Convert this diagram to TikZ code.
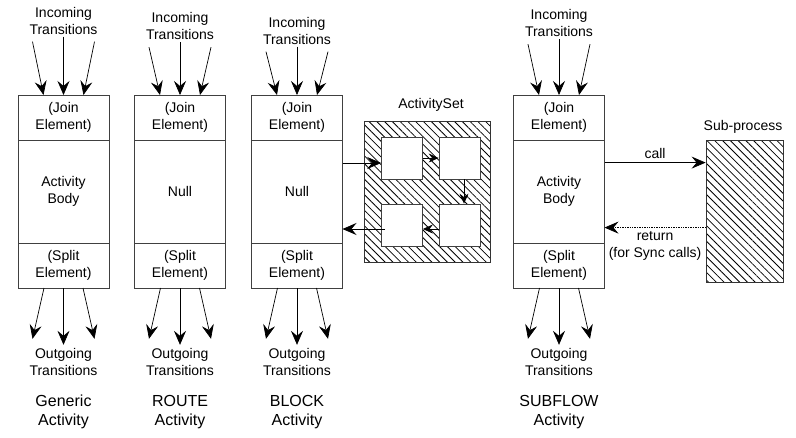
\documentclass[tikz,border=0pt]{standalone}
\usepackage{fontspec}
\setmainfont{Liberation Sans}
\usetikzlibrary{positioning,arrows.meta,patterns.meta}

\newcommand{\lblfont}{\fontsize{14}{17}\selectfont}
\newcommand{\ttlfont}{\fontsize{16}{19.5}\selectfont}

\tikzset{
  part/.style={draw=black!75, line width=0.8pt, outer sep=0pt, minimum width=91pt,
    inner sep=0pt, align=center, font=\lblfont},
  joinpart/.style={part, minimum height=45pt},
  bodypart/.style={part, minimum height=103pt},
  lbl/.style={align=center, font=\lblfont},
  ttl/.style={align=center, font=\ttlfont},
  trans/.style={-{Stealth[length=14pt,width=12pt,inset=5pt]}, line width=0.7pt},
  flow/.style={-{Stealth[length=10pt,width=9pt,inset=3.5pt]}, line width=0.7pt},
  hatch/.style={draw=black!80, line width=0.8pt, inner sep=0pt,
    pattern={Lines[angle=-45,distance=5.5pt,line width=0.8pt]}},
  task/.style={draw=black!75, fill=white, line width=0.8pt, inner sep=0pt,
    minimum width=41pt, minimum height=42pt},
}

\begin{document}
\begin{tikzpicture}[x=1pt,y=-1pt]
\useasboundingbox (0,0) rectangle (796,437);

% generic activity
\node[lbl] (g-in) at (63.5,20.5) {Incoming\\Transitions};
\node[joinpart] (g-join) at (63.5,117.5) {(Join\\Element)};
\node[bodypart, below=0pt of g-join] (g-body) {Activity\\Body};
\node[joinpart, below=0pt of g-body] (g-split) {(Split\\Element)};
\node[lbl] (g-out) at (63.5,362) {Outgoing\\Transitions};
\node[ttl] (g-name) at (63.5,412) {Generic\\Activity};

% route activity
\node[lbl] (r-in) at (180,26) {Incoming\\Transitions};
\node[joinpart] (r-join) at (180,117.5) {(Join\\Element)};
\node[bodypart, below=0pt of r-join] (r-body) {Null};
\node[joinpart, below=0pt of r-body] (r-split) {(Split\\Element)};
\node[lbl] (r-out) at (180,362) {Outgoing\\Transitions};
\node[ttl] (r-name) at (180,412) {ROUTE\\Activity};

% block activity
\node[lbl] (b-in) at (297,30.5) {Incoming\\Transitions};
\node[joinpart] (b-join) at (297,117.5) {(Join\\Element)};
\node[bodypart, below=0pt of b-join] (b-body) {Null};
\node[joinpart, below=0pt of b-body] (b-split) {(Split\\Element)};
\node[lbl] (b-out) at (297,362) {Outgoing\\Transitions};
\node[ttl] (b-name) at (297,412) {BLOCK\\Activity};

% subflow activity
\node[lbl] (s-in) at (559,23) {Incoming\\Transitions};
\node[joinpart] (s-join) at (559,117.5) {(Join\\Element)};
\node[bodypart, below=0pt of s-join] (s-body) {Activity\\Body};
\node[joinpart, below=0pt of s-body] (s-split) {(Split\\Element)};
\node[lbl] (s-out) at (559,362) {Outgoing\\Transitions};
\node[ttl] (s-name) at (559,412) {SUBFLOW\\Activity};

\foreach \c in {g,r,b,s} {
  \draw[trans] ([xshift=-31pt,yshift=-4pt]\c-in.south) -- ([xshift=-20pt]\c-join.north);
  \draw[trans] ([yshift=1pt]\c-in.south) -- (\c-join.north);
  \draw[trans] ([xshift=31pt,yshift=-4pt]\c-in.south) -- ([xshift=20pt]\c-join.north);
  \draw[trans] ([xshift=-19.5pt]\c-split.south) -- ([xshift=-31pt,yshift=6pt]\c-out.north);
  \draw[trans] (\c-split.south) -- (\c-out.north);
  \draw[trans] ([xshift=19.5pt]\c-split.south) -- ([xshift=31pt,yshift=6pt]\c-out.north);
}

% activity set
\node[lbl] (set-name) at (431,105) {ActivitySet};
\node[hatch, minimum width=126pt, minimum height=141pt] (set) at (427,191.5) {};
\node[task] (t1) at (402,158) {};
\node[task] (t2) at (459.5,158) {};
\node[task] (t3) at (402,225) {};
\node[task] (t4) at (459.5,225) {};

\coordinate (enter) at ([yshift=-5pt]t1.west);
\coordinate (leave) at ([xshift=4pt,yshift=-4pt]t3.west);
\draw[trans] (b-body.east |- enter) -- (enter);
\draw[flow] (t1) -- (t2);
\draw[flow] ([xshift=4.5pt]t2.south) -- ([xshift=4.5pt]t4.north);
\draw[flow] ([yshift=-4pt]t4.west) -- ([yshift=-4pt]t3.east);
\draw[trans] (leave) -- (b-body.east |- leave);

% sub-process
\node[lbl] (sub-name) at (743,127) {Sub-process};
\node[hatch, minimum width=77pt, minimum height=142pt] (sub) at (744.5,211) {};
\coordinate (call) at ([yshift=-23pt]sub.north west);
\coordinate (ret) at ([yshift=-88pt]sub.north west);
\draw[trans] (s-body.east |- call) -- node[lbl, above] {call} (call);
\draw[trans, densely dotted] (ret) -- node[lbl, below] {return\\(for Sync calls)} (s-body.east |- ret);
\end{tikzpicture}
\end{document}
